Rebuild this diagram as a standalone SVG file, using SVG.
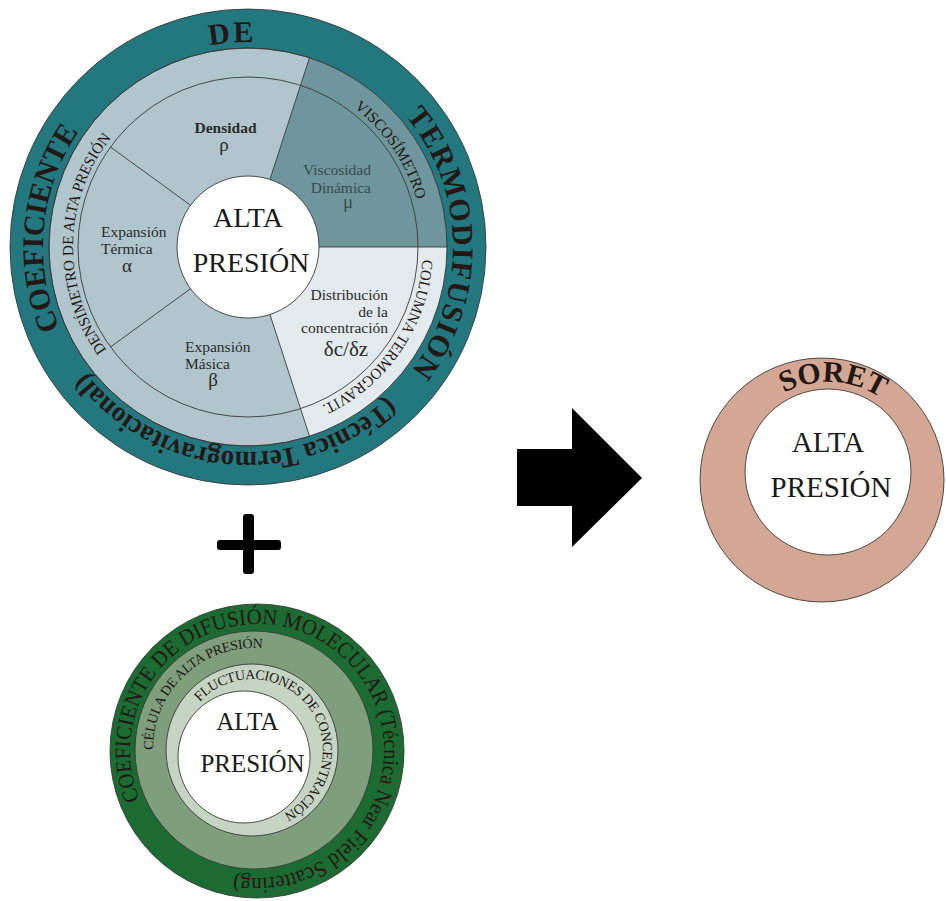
<svg xmlns="http://www.w3.org/2000/svg" width="946" height="901" viewBox="0 0 946 901">
<style>
  .ln { stroke: #3a3a3a; stroke-width: 0.9; }
  .thin { fill: none; stroke: #3a3a3a; stroke-width: 0.9; }
  .serif { font-family: "Liberation Serif", "DejaVu Serif", serif; fill: #231815; }
  .ring { font-family: "Liberation Serif", "DejaVu Serif", serif; fill: #231815; font-weight: bold; font-size: 30px; }
  .ring2 { font-family: "Liberation Serif", "DejaVu Serif", serif; fill: #231815; font-size: 15.5px; }
  .lab { font-family: "Liberation Serif", "DejaVu Serif", serif; fill: #2b2b2b; font-size: 15.5px; }
  .greek { font-family: "Liberation Serif", "DejaVu Serif", serif; fill: #2b2b2b; font-size: 19px; }
  .core { font-family: "Liberation Serif", "DejaVu Serif", serif; fill: #1a1a1a; font-size: 28px; text-anchor: middle; }
</style>
<defs>
  <path id="pCoef" d="M59.7,328.1 A205,205 0 0 1 78.9,131.2"/>
  <path id="pDe" d="M209.6,45.6 A205,205 0 0 1 253,42.1"/>
  <path id="pTermo" d="M405.7,116 A205,205 0 0 1 411.3,370.9"/>
  <path id="pTec" d="M387.5,397.2 A205,205 0 0 1 85.8,372.4"/>
  <path id="pDens" d="M106.6,350.1 A175,175 0 0 1 111,138.1"/>
  <path id="pVisc" d="M354.1,107.8 A175,175 0 0 1 416.6,199.9"/>
  <path id="pCol" d="M422.5,259.5 A175,175 0 0 1 322,405.6"/>
  <path id="pSoret" d="M757.8,412.5 A96,96 0 0 1 904.7,420.2"/>
  <path id="pGOut" d="M139.7,799.6 A127,127 0 1 1 234.5,876"/>
  <path id="pCel" d="M153,749.9 A101,101 0 0 1 263.3,648.4"/>
  <path id="pFluc" d="M199.7,701.9 A71,71 0 1 1 283.8,813.5"/>
</defs>

<g id="termodifusion">
  <circle cx="248" cy="247" r="238" fill="#237880" class="ln"/>
  <circle cx="248" cy="247" r="199" fill="#b1c5cd" class="ln"/>
  <path d="M248,247 L309.5,57.7 A199,199 0 0 1 447,247 Z" fill="#6e969c"/>
  <path d="M248,247 L447,247 A199,199 0 0 1 309.5,436.3 Z" fill="#e2eaed"/>
  <circle cx="248" cy="247" r="199" class="thin"/>
  <circle cx="248" cy="247" r="170" class="thin"/>
  <line x1="248" y1="247" x2="309.5" y2="57.7" class="ln"/>
  <line x1="248" y1="247" x2="447" y2="247" class="ln"/>
  <line x1="248" y1="247" x2="309.5" y2="436.3" class="ln"/>
  <line x1="190.6" y1="205.3" x2="110.5" y2="147" class="ln"/>
  <line x1="190.6" y1="288.7" x2="110.5" y2="347" class="ln"/>
  <circle cx="248" cy="247" r="71" fill="#ffffff" class="ln"/>

  <text class="ring"><textPath href="#pCoef" textLength="206" lengthAdjust="spacingAndGlyphs">COEFICIENTE</textPath></text>
  <text class="ring"><textPath href="#pDe" textLength="44" lengthAdjust="spacing">DE</textPath></text>
  <text class="ring"><textPath href="#pTermo" textLength="275" lengthAdjust="spacing">TERMODIFUSIÓN</textPath></text>
  <text class="ring" style="font-size:28px"><textPath href="#pTec" textLength="340" lengthAdjust="spacingAndGlyphs">(Técnica Termogravitacional)</textPath></text>

  <text class="ring2"><textPath href="#pDens" textLength="228" lengthAdjust="spacingAndGlyphs">DENSÍMETRO DE ALTA PRESIÓN</textPath></text>
  <text class="ring2"><textPath href="#pVisc" textLength="113" lengthAdjust="spacingAndGlyphs">VISCOSÍMETRO</textPath></text>
  <text class="ring2"><textPath href="#pCol" textLength="186" lengthAdjust="spacingAndGlyphs">COLUMNA TERMOGRAVIT.</textPath></text>

  <text class="lab" x="225.5" y="133" text-anchor="middle" font-weight="bold">Densidad</text>
  <text class="greek" x="224" y="151" text-anchor="middle">ρ</text>

  <text class="lab" x="371" y="175" text-anchor="end" style="fill:#3b4a4e">Viscosidad</text>
  <text class="lab" x="371" y="193" text-anchor="end" style="fill:#3b4a4e">Dinámica</text>
  <text class="greek" x="348" y="208" text-anchor="middle" style="fill:#3b4a4e">μ</text>

  <text class="lab" x="101" y="237">Expansión</text>
  <text class="lab" x="101" y="254">Térmica</text>
  <text class="greek" x="127" y="272" text-anchor="middle">α</text>

  <text class="lab" x="185" y="352">Expansión</text>
  <text class="lab" x="185" y="369">Másica</text>
  <text class="greek" x="213" y="386" text-anchor="middle">β</text>

  <text class="lab" x="388" y="300" text-anchor="end">Distribución</text>
  <text class="lab" x="388" y="317" text-anchor="end">de la</text>
  <text class="lab" x="388" y="333" text-anchor="end">concentración</text>
  <text class="greek" x="346" y="356" text-anchor="middle" style="font-size:21px">δc/δz</text>

  <text class="core" x="248" y="227">ALTA</text>
  <text class="core" x="251" y="272">PRESIÓN</text>
</g>

<g id="plus">
  <rect x="243" y="514" width="11" height="60" rx="3" fill="#000"/>
  <rect x="217" y="540" width="64" height="10" rx="3" fill="#000"/>
</g>

<g id="difusion">
  <circle cx="257" cy="751" r="147" fill="#1b6b32" class="ln"/>
  <circle cx="254" cy="750" r="119" fill="#7f9e7c" class="ln"/>
  <circle cx="252" cy="750" r="86" fill="#c6d4c3" class="ln"/>
  <circle cx="244" cy="757" r="66" fill="#ffffff" class="ln"/>
  <text class="serif" style="font-size:22px"><textPath href="#pGOut" textLength="671" lengthAdjust="spacingAndGlyphs">COEFICIENTE DE DIFUSIÓN MOLECULAR (Técnica Near Field Scattering)</textPath></text>
  <text class="serif" style="font-size:14px"><textPath href="#pCel" textLength="168" lengthAdjust="spacing">CÉLULA DE ALTA PRESIÓN</textPath></text>
  <text class="serif" style="font-size:14px"><textPath href="#pFluc" textLength="248" lengthAdjust="spacing">FLUCTUACIONES DE CONCENTRACIÓN</textPath></text>
  <text class="core" x="247.5" y="730" style="font-size:25px">ALTA</text>
  <text class="core" x="252.5" y="772" style="font-size:25px">PRESIÓN</text>
</g>

<g id="connectors">
  <polygon id="arrow" points="517,449 572,449 572,408 642,478 572,547 572,506 517,506" fill="#000"/>
</g>

<g id="soret">
  <circle cx="822" cy="480" r="122" fill="#d4a794" class="ln"/>
  <circle cx="828" cy="472" r="83" fill="#ffffff" class="ln"/>
  <text class="ring" style="font-size:30px"><textPath href="#pSoret" startOffset="50%" text-anchor="middle">SORET</textPath></text>
  <text class="core" x="828" y="452" style="font-size:29px">ALTA</text>
  <text class="core" x="831" y="497" style="font-size:29px">PRESIÓN</text>
</g>
</svg>
